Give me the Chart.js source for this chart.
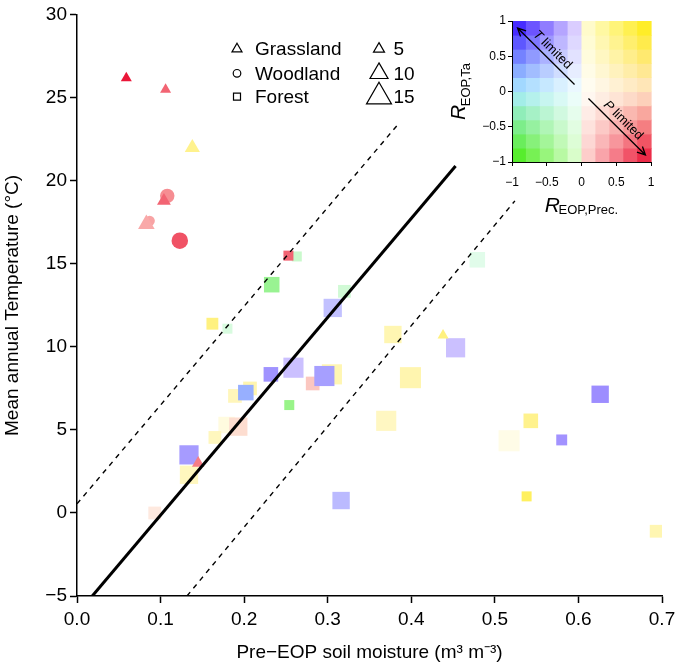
<!DOCTYPE html>
<html>
<head>
<meta charset="utf-8">
<script src="https://cdn.jsdelivr.net/npm/chart.js@4.4.0/dist/chart.umd.min.js"></script>
<style>
  html, body { margin: 0; padding: 0; background: #fff; }
  #wrap { position: relative; width: 677px; height: 664px; }
  #main { position: absolute; left: 0; top: 0; }
  #key { position: absolute; left: 430px; top: 0; }
</style>
</head>
<body>
<div id="wrap">
  <canvas id="main" width="677" height="664"></canvas>
  <canvas id="key" width="247" height="230"></canvas>
</div>
<script>
// ---- data ----
// Grassland sites (triangles)
const grassX = [0.059, 0.106, 0.138, 0.104, 0.083, 0.145, 0.438];
const grassY = [26.2, 25.5, 22.0, 18.8, 17.4, 3.0, 10.7];
const grassSize = [5, 5, 8, 7, 9, 6, 5];
const grassRP = [0.95, 0.75, 0.55, 0.75, 0.55, 0.7, 0.6];
const grassRT = [-0.95, -0.75, 0.65, -0.75, -0.5, -0.65, 0.7];

// Woodland sites (circles)
const woodX = [0.108, 0.087, 0.123];
const woodY = [19.1, 17.6, 16.4];
const woodSize = [11, 7, 13];
const woodRP = [0.65, 0.55, 0.8];
const woodRT = [-0.6, -0.55, -0.8];

// Forest sites (squares)
const forestX = [0.093, 0.134, 0.134, 0.179, 0.165, 0.193, 0.189, 0.207, 0.202, 0.162,
                 0.180, 0.233, 0.263, 0.253, 0.232, 0.259, 0.282, 0.254, 0.305, 0.296,
                 0.306, 0.320, 0.479, 0.378, 0.453, 0.399, 0.370, 0.517, 0.626, 0.543,
                 0.580, 0.316, 0.538, 0.693];
const forestY = [0.0, 2.3, 3.5, 5.3, 4.55, 5.2, 7.05, 7.5, 7.25, 11.4,
                 11.1, 13.75, 15.45, 15.5, 8.35, 8.75, 7.8, 6.5, 8.35, 8.25,
                 12.35, 13.35, 15.25, 10.75, 9.95, 8.15, 5.55, 4.35, 7.15, 5.55,
                 4.4, 0.75, 1.0, -1.1];
const forestSize = [11, 17, 18, 15, 11, 17, 12, 12, 14, 10,
                    8, 14, 8, 8, 13, 19, 12, 8, 19, 19,
                    17, 11, 14, 16, 18, 20, 19, 20, 16, 13,
                    9, 16, 8, 11];
const forestRP = [0.3, 0.3, -0.42, 0.15, 0.3, 0.5, 0.35, 0.4, -0.75, 0.6,
                  -0.2, -0.6, -0.3, 0.75, -0.45, -0.2, 0.5, -0.55, 0.35, -0.45,
                  -0.3, -0.25, -0.15, 0.35, -0.2, 0.4, 0.3, 0.1, -0.45, 0.55,
                  -0.42, -0.35, 0.7, 0.35];
const forestRT = [-0.15, 0.55, 0.78, 0.35, 0.55, -0.15, 0.5, 0.55, 0.35, 0.7,
                  -0.4, -0.65, -0.5, -0.75, 0.8, 0.8, -0.32, -0.75, 0.6, 0.7,
                  0.6, -0.45, -0.3, 0.6, 0.8, 0.55, 0.5, 0.3, 0.85, 0.65,
                  0.85, 0.6, 0.8, 0.6];

// regression line and its band
const fitX = [0.0183, 0.453];
const fitY = [-5, 20.9];
const upperX = [0, 0.384];
const upperY = [0.55, 23.4];
const lowerX = [0.1316, 0.524];
const lowerY = [-5, 18.8];

// legend entries
const siteTypes = ['Grassland', 'Woodland', 'Forest'];
const sizeKeys = [5, 10, 15];
const keySteps = [-0.9, -0.7, -0.5, -0.3, -0.1, 0.1, 0.3, 0.5, 0.7, 0.9];

// ---- styling helpers ----
const FONT = '"Liberation Sans", Arial, Helvetica, sans-serif';
Chart.defaults.font.family = FONT;
Chart.defaults.color = '#000';

// bivariate colour key: R_EOP,Prec. (left/right) x R_EOP,Ta (up/down)
const KEY_LEFT = {
  top: [[235, 222, 255], [40, 0, 255]],
  mid: [[245, 255, 255], [165, 235, 255]],
  bot: [[232, 255, 218], [60, 235, 0]]
};
const KEY_RIGHT = {
  top: [[255, 253, 220], [255, 236, 0]],
  mid: [[255, 255, 250], [255, 226, 195]],
  bot: [[255, 222, 215], [232, 0, 40]]
};
function mix(a, b, t) { return a.map((v, i) => v + (b[i] - v) * t); }
function rColor(rp, rt) {
  const side = rp < 0 ? KEY_LEFT : KEY_RIGHT;
  const u = Math.min(Math.abs(rp), 1), v = Math.min(Math.abs(rt), 1);
  const edge = rt >= 0 ? side.top : side.bot;
  const c = mix(mix(side.mid[0], side.mid[1], u), mix(edge[0], edge[1], u), v);
  return 'rgb(' + c.map(Math.round).join(',') + ')';
}

// marker size: triangle width in px for a given size value
function markerWidth(s) { return 4 + 1.4 * s; }
const radiusFor = {
  triangle: s => markerWidth(s) / Math.sqrt(3),
  circle: s => markerWidth(s) * 0.743 / 2,
  rect: s => markerWidth(s) * 0.658 / Math.SQRT2
};

function pts(xs, ys) { return xs.map((x, i) => ({ x: x, y: ys[i] })); }
function minus(v) { return (v < 0 ? '\u2212' : '') + Math.abs(v); }

function markerPath(ctx, style, x, y, r) {
  ctx.beginPath();
  if (style === 'triangle') {
    ctx.moveTo(x, y - r);
    ctx.lineTo(x + 0.866 * r, y + 0.5 * r);
    ctx.lineTo(x - 0.866 * r, y + 0.5 * r);
    ctx.closePath();
  } else if (style === 'circle') {
    ctx.arc(x, y, r, 0, Math.PI * 2);
  } else {
    const h = r * Math.SQRT1_2;
    ctx.rect(x - h, y - h, 2 * h, 2 * h);
  }
}

// shape + size legends in the main panel
const siteLegend = {
  id: 'siteLegend',
  afterDraw(chart) {
    const ctx = chart.ctx;
    const rows = [49, 73.3, 96.7];
    const shapes = ['triangle', 'circle', 'rect'];
    const shapeR = [5.8, 3.8, 4.95];
    ctx.save();
    ctx.strokeStyle = '#000';
    ctx.lineWidth = 1.2;
    ctx.fillStyle = '#000';
    ctx.font = '19px ' + FONT;
    ctx.textBaseline = 'middle';
    ctx.textAlign = 'left';
    siteTypes.forEach((name, i) => {
      markerPath(ctx, shapes[i], 237, rows[i], shapeR[i]);
      ctx.stroke();
      ctx.fillText(name, 255, rows[i] + 1);
    });
    sizeKeys.forEach((s, i) => {
      markerPath(ctx, 'triangle', 379, rows[i], radiusFor.triangle(s));
      ctx.stroke();
      ctx.fillText(String(s), 393.5, rows[i] + 1);
    });
    ctx.restore();
  }
};

function pointSet(label, style, xs, ys, sizes, rps, rts, order) {
  return {
    label: label,
    data: pts(xs, ys),
    pointStyle: style,
    pointRadius: ctx => radiusFor[style](sizes[ctx.dataIndex]),
    pointBackgroundColor: ctx => rColor(rps[ctx.dataIndex], rts[ctx.dataIndex]),
    pointBorderWidth: 0,
    showLine: false,
    order: order
  };
}

new Chart(document.getElementById('main'), {
  type: 'scatter',
  data: {
    datasets: [
      { label: 'fit', data: pts(fitX, fitY), showLine: true, borderColor: '#000', borderWidth: 3, pointRadius: 0, order: 0 },
      { label: 'upper', data: pts(upperX, upperY), showLine: true, borderColor: '#000', borderWidth: 1.4, borderDash: [5, 5], pointRadius: 0, order: 0 },
      { label: 'lower', data: pts(lowerX, lowerY), showLine: true, borderColor: '#000', borderWidth: 1.4, borderDash: [5, 5], pointRadius: 0, order: 0 },
      pointSet('Grassland', 'triangle', grassX, grassY, grassSize, grassRP, grassRT, 1),
      pointSet('Woodland', 'circle', woodX, woodY, woodSize, woodRP, woodRT, 2),
      pointSet('Forest', 'rect', forestX, forestY, forestSize, forestRP, forestRT, 3)
    ]
  },
  options: {
    responsive: false,
    animation: false,
    devicePixelRatio: 1,
    events: [],
    layout: { padding: { left: 0, right: 15, top: 9.5, bottom: 0 } },
    plugins: { legend: { display: false }, tooltip: { enabled: false } },
    scales: {
      x: {
        type: 'linear', min: 0, max: 0.7,
        ticks: { stepSize: 0.1, callback: v => v.toFixed(1), color: '#000', font: { size: 19 }, padding: 5, maxRotation: 0 },
        grid: { drawOnChartArea: false, tickLength: 7, tickColor: '#000', tickWidth: 1.5 },
        border: { color: '#000', width: 1.5 },
        title: { display: true, text: 'Pre\u2212EOP soil moisture (m\u00B3 m\u207B\u00B3)', color: '#000', font: { size: 19 }, padding: { top: 0, bottom: 0 } },
        afterFit: s => { s.height = 68; s.paddingLeft = 0; s.paddingRight = 0; }
      },
      y: {
        type: 'linear', min: -5, max: 30,
        ticks: { stepSize: 5, callback: v => minus(v), color: '#000', font: { size: 19 }, padding: 3 },
        grid: { drawOnChartArea: false, tickLength: 7, tickColor: '#000', tickWidth: 1.5 },
        border: { color: '#000', width: 1.5 },
        title: { display: true, text: 'Mean annual Temperature (\u00B0C)', color: '#000', font: { size: 19 }, padding: { top: 1, bottom: 0 } },
        afterFit: s => { s.width = 77; s.paddingTop = 0; s.paddingBottom = 0; }
      }
    }
  },
  plugins: [siteLegend]
});

// ---- inset colour key ----
const keyCells = {
  id: 'keyCells',
  beforeDraw(chart) {
    const { ctx, scales: { x, y } } = chart;
    ctx.save();
    keySteps.forEach(rp => keySteps.forEach(rt => {
      const x0 = x.getPixelForValue(rp - 0.1), x1 = x.getPixelForValue(rp + 0.1);
      const y0 = y.getPixelForValue(rt + 0.1), y1 = y.getPixelForValue(rt - 0.1);
      ctx.fillStyle = rColor(rp, rt);
      ctx.fillRect(x0, y0, x1 - x0 + 0.6, y1 - y0 + 0.6);
    }));
    ctx.restore();
  }
};

function arrow(ctx, x0, y0, x1, y1) {
  const a = Math.atan2(y1 - y0, x1 - x0);
  ctx.beginPath();
  ctx.moveTo(x0, y0);
  ctx.lineTo(x1, y1);
  ctx.moveTo(x1 - 9 * Math.cos(a - 0.45), y1 - 9 * Math.sin(a - 0.45));
  ctx.lineTo(x1, y1);
  ctx.lineTo(x1 - 9 * Math.cos(a + 0.45), y1 - 9 * Math.sin(a + 0.45));
  ctx.stroke();
}

function slantedLabel(ctx, xa, ya, xb, yb, letter) {
  // label sits above the arrow, reading left to right
  const a = Math.atan2(Math.abs(yb - ya), Math.abs(xb - xa));
  const cx = (xa + xb) / 2 + 9 * Math.sin(a);
  const cy = (ya + yb) / 2 - 9 * Math.cos(a);
  ctx.save();
  ctx.translate(cx, cy);
  ctx.rotate(a);
  ctx.textBaseline = 'middle';
  ctx.textAlign = 'left';
  ctx.font = 'italic 13px ' + FONT;
  const w1 = ctx.measureText(letter).width;
  ctx.font = '13px ' + FONT;
  const w2 = ctx.measureText(' limited').width;
  ctx.font = 'italic 13px ' + FONT;
  ctx.fillText(letter, -(w1 + w2) / 2, 0);
  ctx.font = '13px ' + FONT;
  ctx.fillText(' limited', -(w1 + w2) / 2 + w1, 0);
  ctx.restore();
}

const keyNotes = {
  id: 'keyNotes',
  afterDraw(chart) {
    const { ctx, chartArea: ca, scales: { x, y } } = chart;
    ctx.save();
    ctx.strokeStyle = '#000';
    ctx.fillStyle = '#000';
    ctx.lineWidth = 1.3;
    // T limited: from centre towards upper left
    const t0 = [x.getPixelForValue(-0.1), y.getPixelForValue(0.1)];
    const t1 = [x.getPixelForValue(-0.92), y.getPixelForValue(0.9)];
    arrow(ctx, t0[0], t0[1], t1[0], t1[1]);
    slantedLabel(ctx, t1[0], t1[1], t0[0], t0[1], 'T');
    // P limited: from centre towards lower right
    const p0 = [x.getPixelForValue(0.1), y.getPixelForValue(-0.1)];
    const p1 = [x.getPixelForValue(0.92), y.getPixelForValue(-0.9)];
    arrow(ctx, p0[0], p0[1], p1[0], p1[1]);
    slantedLabel(ctx, p0[0], p0[1], p1[0], p1[1], 'P');

    // axis titles: italic R with subscript
    ctx.textAlign = 'left';
    ctx.textBaseline = 'alphabetic';
    ctx.font = 'italic 21px ' + FONT;
    const rW = ctx.measureText('R').width - 1.5;
    ctx.font = '13px ' + FONT;
    const xsW = ctx.measureText('EOP,Prec.').width;
    const xStart = (ca.left + ca.right) / 2 - (rW + xsW) / 2;
    ctx.font = 'italic 21px ' + FONT;
    ctx.fillText('R', xStart, ca.bottom + 49.7);
    ctx.font = '13px ' + FONT;
    ctx.fillText('EOP,Prec.', xStart + rW, ca.bottom + 51.5);

    const ysW = ctx.measureText('EOP,Ta').width;
    ctx.translate(ca.left - 47, (ca.top + ca.bottom) / 2);
    ctx.rotate(-Math.PI / 2);
    const yStart = -(rW + ysW) / 2;
    ctx.font = 'italic 21px ' + FONT;
    ctx.fillText('R', yStart, 0);
    ctx.font = '13px ' + FONT;
    ctx.fillText('EOP,Ta', yStart + rW, 5);
    ctx.restore();
  }
};

new Chart(document.getElementById('key'), {
  type: 'scatter',
  data: { datasets: [] },
  options: {
    responsive: false,
    animation: false,
    devicePixelRatio: 1,
    events: [],
    layout: { padding: { left: 0, right: 26, top: 21, bottom: 0 } },
    plugins: { legend: { display: false }, tooltip: { enabled: false } },
    scales: {
      x: {
        type: 'linear', min: -1, max: 1,
        ticks: { stepSize: 0.5, callback: v => minus(v), color: '#000', font: { size: 12 }, padding: 9, maxRotation: 0, autoSkip: false },
        grid: { drawOnChartArea: false, tickLength: 4, tickColor: '#000' },
        border: { color: '#000', width: 1 },
        afterFit: s => { s.height = 68; s.paddingLeft = 0; s.paddingRight = 0; }
      },
      y: {
        type: 'linear', min: -1, max: 1,
        ticks: { stepSize: 0.5, callback: v => minus(v), color: '#000', font: { size: 12 }, padding: 2, autoSkip: false },
        grid: { drawOnChartArea: false, tickLength: 4, tickColor: '#000' },
        border: { color: '#000', width: 1 },
        afterFit: s => { s.width = 82; s.paddingTop = 0; s.paddingBottom = 0; }
      }
    }
  },
  plugins: [keyCells, keyNotes]
});
</script>
</body>
</html>
